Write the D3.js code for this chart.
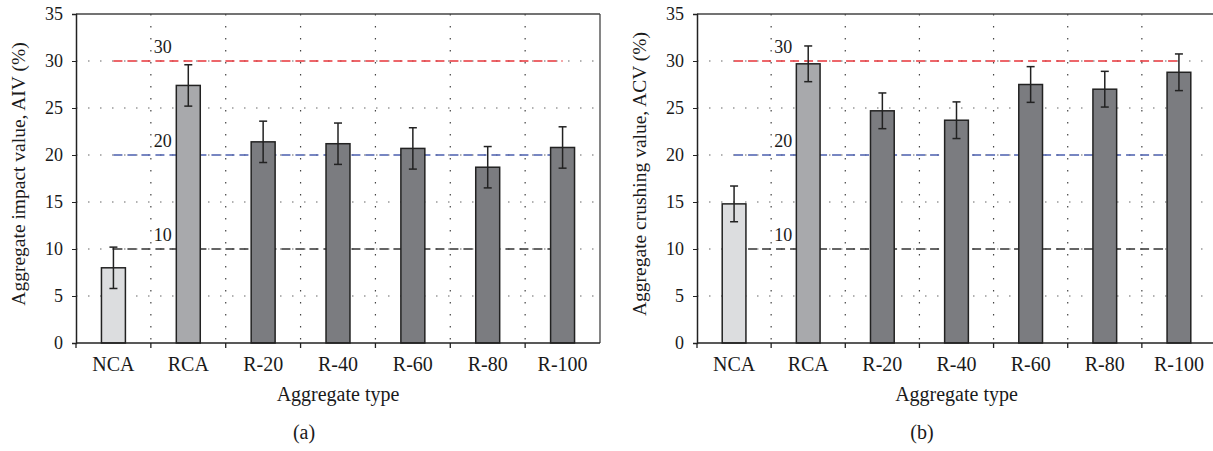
<!DOCTYPE html>
<html>
<head>
<meta charset="utf-8">
<script src="https://cdn.jsdelivr.net/npm/d3@7"></script>
<style>
  body { margin: 0; background: #fff; }
  svg { display: block; font-family: "Liberation Serif", "DejaVu Serif", serif; }
  .tick-label { font-size: 18px; fill: #1a1a1a; }
  .cat-label { font-size: 20px; fill: #1a1a1a; }
  .title { font-size: 20px; fill: #1a1a1a; }
  .ytitle { font-size: 19.5px; fill: #1a1a1a; }
</style>
</head>
<body>
<div class="chart"></div>
<script>
// values
const categories = ["NCA", "RCA", "R-20", "R-40", "R-60", "R-80", "R-100"];
const aivMean = [8.0, 27.4, 21.4, 21.2, 20.7, 18.7, 20.8];
const aivErr = [2.2, 2.2, 2.2, 2.2, 2.2, 2.2, 2.2];
const acvMean = [14.8, 29.7, 24.7, 23.7, 27.5, 27.0, 28.8];
const acvErr = [1.9, 1.9, 1.9, 1.95, 1.9, 1.9, 1.95];
const yTicks = [0, 5, 10, 15, 20, 25, 30, 35];
const limits = [30, 20, 10];

const W = 1213, H = 451;
const plotTop = 14, plotBottom = 343;

const barFill = d3.scaleOrdinal()
    .domain(categories)
    .range(["#dcdddf", "#a8a9ac", "#7b7c80", "#7b7c80", "#7b7c80", "#7b7c80", "#7b7c80"]);
const limitColor = d3.scaleOrdinal()
    .domain(limits)
    .range(["#e8343a", "#4b5fae", "#333333"]);

const svg = d3.select('.chart')
    .append('svg')
    .attr('width', W)
    .attr('height', H);

function drawPanel(opt) {
    const width = opt.width;
    const g = svg.append('g')
        .attr('transform', 'translate(' + opt.left + ',0)');

    const xScale = d3.scaleBand()
        .domain(categories)
        .range([0, width])
        .paddingInner(0.68)
        .paddingOuter(0.34);
    const step = xScale.step();

    const yScale = d3.scaleLinear()
        .domain([0, 35])
        .range([plotBottom, plotTop]);

    // dotted grid
    g.selectAll('.hgrid')
        .data(yTicks.filter(d => d > 0 && d < 35))
        .enter().append('line')
        .attr('x1', 0).attr('x2', width)
        .attr('y1', d => yScale(d)).attr('y2', d => yScale(d))
        .attr('stroke', '#666').attr('stroke-width', 1.2)
        .attr('stroke-dasharray', '1.5,10.5');

    g.selectAll('.vgrid')
        .data(d3.range(1, categories.length))
        .enter().append('line')
        .attr('x1', i => i * step).attr('x2', i => i * step)
        .attr('y1', plotTop).attr('y2', plotBottom)
        .attr('stroke', '#444').attr('stroke-width', 1.2)
        .attr('stroke-dasharray', '1.5,10.5');

    // frame
    g.append('line')
        .attr('x1', 0).attr('x2', width)
        .attr('y1', plotTop).attr('y2', plotTop)
        .attr('stroke', '#444').attr('stroke-width', 1.3);
    g.append('line')
        .attr('x1', width).attr('x2', width)
        .attr('y1', plotTop).attr('y2', plotBottom)
        .attr('stroke', '#444').attr('stroke-width', 1.3);

    // limit lines
    const x0 = xScale(categories[0]) + xScale.bandwidth() / 2;
    const x1 = xScale(categories[categories.length - 1]) + xScale.bandwidth() / 2;
    g.selectAll('.limit')
        .data(limits)
        .enter().append('line')
        .attr('x1', x0).attr('x2', x1)
        .attr('y1', d => yScale(d)).attr('y2', d => yScale(d))
        .attr('stroke', d => limitColor(d))
        .attr('stroke-width', 1.4)
        .attr('stroke-dasharray', '9,5');

    g.selectAll('.limit-label')
        .data(limits)
        .enter().append('text')
        .attr('class', 'tick-label')
        .attr('x', step + 3)
        .attr('y', d => yScale(d) - 8)
        .text(d => d);

    // bars
    const data = categories.map((c, i) => ({cat: c, v: opt.mean[i], e: opt.err[i]}));
    g.selectAll('.bar')
        .data(data)
        .enter().append('rect')
        .attr('class', 'bar')
        .attr('x', d => xScale(d.cat))
        .attr('y', d => yScale(d.v))
        .attr('width', xScale.bandwidth())
        .attr('height', d => plotBottom - yScale(d.v))
        .attr('fill', d => barFill(d.cat))
        .attr('stroke', '#222')
        .attr('stroke-width', 1.5);

    // error bars
    const eb = g.selectAll('.err')
        .data(data)
        .enter().append('g')
        .attr('transform', d => 'translate(' + (xScale(d.cat) + xScale.bandwidth() / 2) + ',0)');
    eb.append('line')
        .attr('y1', d => yScale(d.v + d.e)).attr('y2', d => yScale(d.v - d.e))
        .attr('stroke', '#222').attr('stroke-width', 1.5);
    eb.append('line')
        .attr('x1', -4).attr('x2', 4)
        .attr('y1', d => yScale(d.v + d.e)).attr('y2', d => yScale(d.v + d.e))
        .attr('stroke', '#222').attr('stroke-width', 1.5);
    eb.append('line')
        .attr('x1', -4).attr('x2', 4)
        .attr('y1', d => yScale(d.v - d.e)).attr('y2', d => yScale(d.v - d.e))
        .attr('stroke', '#222').attr('stroke-width', 1.5);

    // y axis
    const yAxis = g.append('g')
        .call(d3.axisLeft(yScale).tickValues(yTicks).tickSize(4).tickFormat(d3.format('d')));
    yAxis.select('.domain').attr('stroke', '#222').attr('stroke-width', 1.5);
    yAxis.selectAll('.tick line').attr('stroke', '#222');
    yAxis.selectAll('.tick text')
        .attr('class', 'tick-label')
        .attr('x', -13).attr('dy', '0.33em');
    yAxis.attr('font-family', null).attr('font-size', null);

    // x axis line and boundary ticks
    g.append('line')
        .attr('x1', 0).attr('x2', width)
        .attr('y1', plotBottom).attr('y2', plotBottom)
        .attr('stroke', '#222').attr('stroke-width', 1.6);
    g.selectAll('.xtick')
        .data(d3.range(0, categories.length))
        .enter().append('line')
        .attr('x1', i => i * step).attr('x2', i => i * step)
        .attr('y1', plotBottom).attr('y2', plotBottom + 5)
        .attr('stroke', '#222').attr('stroke-width', 1.3);

    g.selectAll('.cat')
        .data(categories)
        .enter().append('text')
        .attr('class', 'cat-label')
        .attr('text-anchor', 'middle')
        .attr('x', d => xScale(d) + xScale.bandwidth() / 2)
        .attr('y', 371)
        .text(d => d);

    g.append('text')
        .attr('class', 'title')
        .attr('text-anchor', 'middle')
        .attr('x', width / 2)
        .attr('y', 401)
        .text('Aggregate type');

    g.append('text')
        .attr('class', 'ytitle')
        .attr('text-anchor', 'middle')
        .attr('transform', 'translate(-51,174) rotate(-90)')
        .text(opt.ylabel);

    svg.append('text')
        .attr('class', 'title')
        .attr('text-anchor', 'middle')
        .attr('x', opt.captionX)
        .attr('y', 439)
        .text(opt.caption);
}

drawPanel({left: 76, width: 524, mean: aivMean, err: aivErr,
    ylabel: 'Aggregate impact value, AIV (%)', caption: '(a)', captionX: 304});
drawPanel({left: 697, width: 519, mean: acvMean, err: acvErr,
    ylabel: 'Aggregate crushing value, ACV (%)', caption: '(b)', captionX: 922});
</script>
</body>
</html>
